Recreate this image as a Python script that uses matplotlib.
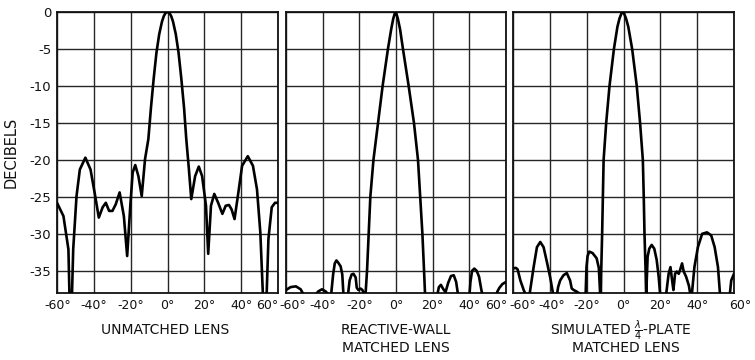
import matplotlib
matplotlib.use("Agg")
import matplotlib.pyplot as plt
import matplotlib.transforms as mtransforms

plt.rcParams['font.family'] = ['DejaVu Sans']
plt.rcParams['mathtext.fontset'] = 'dejavusans'

# ---------------- data (angle in degrees, level in dB) ----------------
unmatched_angle = [-60, -56.5, -53.8, -52.6, -51.2, -49.4, -47.6, -44.6, -41.8, -39.6,
                   -37.3, -35.2, -33.5, -31.7, -29.9, -28.1, -26.0, -23.7, -21.9, -20.2,
                   -18.9, -17.5, -15.8, -14.0, -12.2, -10.4, -9.0, -7.5, -6.0, -4.5,
                   -3.0, -2.0, -1.0, 0, 1.0, 2.0, 3.0, 4.5, 6.0, 7.5, 9.0, 10.2,
                   11.6, 12.9, 15.0, 17.0, 18.8, 20.9, 22.1, 23.6, 25.4, 27.5,
                   29.8, 31.6, 33.4, 34.8, 36.4, 38.2, 40.5, 43.6, 46.4, 48.6,
                   50.4, 52.1, 53.6, 54.8, 56.6, 58.4, 60]
unmatched_db = [-25.8, -27.6, -32.1, -45.0, -32.1, -24.9, -21.3, -19.7, -21.3, -24.4,
                -27.8, -26.4, -25.8, -26.9, -26.9, -26.0, -24.4, -27.6, -33.0, -26.2,
                -21.7, -20.7, -22.2, -24.9, -19.9, -17.2, -13.0, -9.0, -5.5, -3.0,
                -1.3, -0.55, -0.12, 0, -0.12, -0.55, -1.3, -3.0, -5.5, -9.0, -13.0, -17.2,
                -21.2, -25.3, -22.2, -20.9, -22.2, -26.2, -32.7, -26.2, -24.6, -25.8,
                -27.3, -26.2, -26.1, -26.7, -28.0, -24.9, -20.8, -19.5, -20.8, -24.0,
                -29.8, -40.0, -40.0, -30.7, -26.4, -25.8, -25.8]

reactive_angle = [-60, -57.5, -54.6, -52.0, -49.8, -44.5, -42.5, -40.4, -38.3, -36.0,
                  -35.5, -34.3, -33.4, -32.5, -31.5, -30.2, -29.3, -28.6, -26.3, -25.3,
                  -24.2, -23.2, -22.0, -21.4, -20.5, -19.3, -18.3, -17.3, -16.7, -15.8,
                  -14.9, -14.0, -12.3, -9.8, -7.3, -4.4, -2.6, -1.5, -0.8, -0.3, 0.3, 1.0,
                  2.2, 3.8, 6.9, 9.8, 12.0, 13.2, 14.4, 15.3, 15.9, 22.3,
                  23.4, 24.5, 25.6, 27.0, 28.5, 30.0, 31.5, 32.8, 34.0, 40.0,
                  40.6, 41.5, 42.7, 44.0, 45.3, 46.5, 47.3, 54.5, 55.3, 56.4,
                  58.0, 60]
reactive_db = [-37.6, -37.2, -37.1, -37.5, -38.5, -38.5, -37.8, -37.5, -37.8, -38.5,
               -38.5, -35.5, -34.0, -33.6, -33.9, -34.4, -35.5, -38.5, -38.5, -36.3,
               -35.5, -35.4, -35.9, -37.3, -37.6, -37.4, -37.6, -38.2, -38.5, -35.0,
               -30.0, -25.0, -20.0, -15.0, -10.0, -5.0, -2.3, -0.9, -0.3, 0, -0.3, -0.9,
               -2.3, -5.0, -10.0, -15.0, -20.0, -25.0, -30.0, -35.0, -38.5, -38.5,
               -37.2, -36.9, -37.4, -37.9, -36.6, -35.7, -35.6, -36.5, -38.5, -38.5,
               -36.5, -35.0, -34.7, -35.0, -35.8, -37.5, -38.5, -38.5, -37.8, -37.3,
               -36.8, -36.5]

plate_angle = [-60, -58.5, -57.5, -56.0, -54.2, -52.5, -51.2, -50.0, -48.8, -47.0,
               -45.2, -43.4, -41.6, -39.8, -38.4, -38.0, -36.3, -35.5, -34.4, -32.6,
               -30.8, -29.0, -28.1, -27.0, -25.5, -24.3, -23.6, -20.6, -20.1, -19.5,
               -18.6, -16.8, -14.6, -13.4, -12.6, -12.3, -12.1, -11.6, -11.2, -10.8,
               -9.4, -7.6, -5.2, -3.3, -2.2, -1.2, -0.4, 0.4, 1.4, 2.6, 4.7, 7.2,
               9.0, 10.5, 11.0, 11.4, 12.0, 12.3, 13.1, 14.0, 15.3, 16.7,
               18.0, 19.1, 20.0, 23.0, 24.5, 25.5, 26.4, 27.1, 28.0, 28.9,
               30.0, 30.7, 31.8, 32.7, 34.0, 35.5, 36.5, 37.0, 38.5, 40.4,
               42.7, 45.3, 47.6, 49.5, 51.3, 52.5, 57.6, 58.5, 60]
plate_db = [-34.7, -34.6, -34.8, -36.3, -37.6, -38.5, -38.5, -36.5, -34.5, -31.8,
            -31.1, -31.8, -33.8, -35.9, -37.9, -38.5, -38.5, -37.2, -36.3, -35.6,
            -35.3, -36.3, -37.4, -37.6, -37.8, -38.0, -38.5, -38.5, -34.5, -33.0,
            -32.4, -32.6, -33.3, -34.6, -38.5, -38.5, -35.0, -30.0, -25.0, -20.0,
            -15.0, -10.0, -5.0, -2.0, -0.9, -0.25, 0, -0.25, -0.9, -2.0, -5.0, -10.0,
            -15.0, -20.0, -25.0, -30.0, -35.0, -38.5, -33.1, -32.0, -31.5, -32.0,
            -33.5, -35.8, -38.5, -38.5, -35.4, -34.5, -36.3, -37.6, -35.4, -35.1,
            -35.4, -34.9, -34.0, -35.1, -35.8, -37.0, -38.5, -38.5, -34.5, -31.8,
            -30.0, -29.8, -30.2, -31.8, -34.5, -38.5, -38.5, -36.3, -35.4]

x_ticks = [-60, -40, -20, 0, 20, 40, 60]
x_tick_labels = ["-60°", "-40°", "-20°", "0°", "20°", "40°", "60°"]
y_ticks = [0, -5, -10, -15, -20, -25, -30, -35]
y_tick_labels = ["0", "-5", "-10", "-15", "-20", "-25", "-30", "-35"]

# ---------------- figure ----------------
W, H = 755, 360
fig = plt.figure(figsize=(W / 100, H / 100), dpi=100)
fig.patch.set_facecolor('white')

def px_rect(x0, x1, ytop, ybot):
    return [x0 / W, 1 - ybot / H, (x1 - x0) / W, (ybot - ytop) / H]

rects = [px_rect(57, 278, 12, 293), px_rect(286, 506, 12, 293), px_rect(513, 734, 12, 293)]
series = [(unmatched_angle, unmatched_db), (reactive_angle, reactive_db), (plate_angle, plate_db)]
# pixel offsets (label index -> dx) for the crowded edge labels
label_offsets = [{0: 1, 6: -11}, {0: 7, 6: -10}, {0: 10, 1: 1.5, 6: 6}]

for i, (rect, (ang, db), offs) in enumerate(zip(rects, series, label_offsets)):
    ax = fig.add_axes(rect)
    ax.plot(ang, db, color='black', lw=1.9, solid_joinstyle='round', solid_capstyle='round', zorder=3)
    ax.set_xlim(-60, 60)
    ax.set_ylim(-38, 0)
    ax.set_xticks(x_ticks)
    ax.set_xticklabels(x_tick_labels)
    ax.set_yticks(y_ticks)
    if i == 0:
        ax.set_yticklabels(y_tick_labels)
    else:
        ax.set_yticklabels([])
    ax.grid(True, color='#262626', lw=1.0, zorder=1)
    ax.tick_params(length=0, pad=4, labelsize=9, colors='#111111')
    ax.tick_params(axis='y', labelsize=9.5)
    for sp in ax.spines.values():
        sp.set_linewidth(1.3)
        sp.set_color('#111111')
    labels = ax.get_xticklabels()
    for idx, dx in offs.items():
        lbl = labels[idx]
        lbl.set_transform(lbl.get_transform() +
                          mtransforms.ScaledTranslation(dx / 100, 0, fig.dpi_scale_trans))

def ftext(x, y, s, **kw):
    fig.text(x / W, 1 - y / H, s, ha='center', va='center', color='#111111', **kw)

ftext(11, 152, "DECIBELS", rotation=90, fontsize=10.5)
ftext(165, 330, "UNMATCHED LENS", fontsize=10)
ftext(396, 330, "REACTIVE-WALL", fontsize=10)
ftext(396, 348.5, "MATCHED LENS", fontsize=10)
ftext(621, 330, r"SIMULATED $\frac{\lambda}{4}$-PLATE", fontsize=10)
ftext(626, 348.5, "MATCHED LENS", fontsize=10)

fig.savefig("out.png", dpi=100)
